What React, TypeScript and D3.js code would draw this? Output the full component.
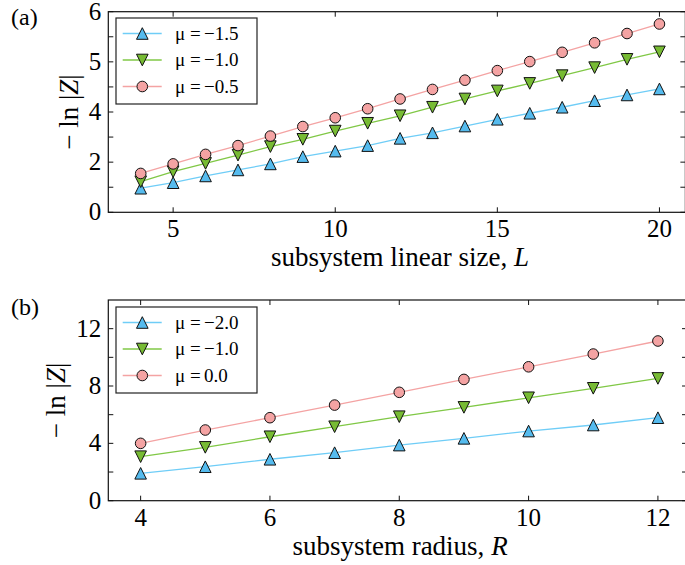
import React from "react";
import * as d3 from "d3";

// ---------- Data ----------
const sizesL = [4, 5, 6, 7, 8, 9, 10, 11, 12, 13, 14, 15, 16, 17, 18, 19, 20];
const aMuM15 = [0.96, 1.18, 1.45, 1.69, 1.93, 2.22, 2.44, 2.66, 2.95, 3.17, 3.44, 3.71, 3.95, 4.19, 4.45, 4.68, 4.92];
const aMuM10 = [1.22, 1.62, 1.95, 2.28, 2.62, 2.91, 3.24, 3.55, 3.85, 4.19, 4.52, 4.84, 5.14, 5.45, 5.77, 6.1, 6.4];
const aMuM05 = [1.55, 1.93, 2.31, 2.66, 3.04, 3.42, 3.77, 4.13, 4.52, 4.9, 5.27, 5.65, 6.01, 6.38, 6.76, 7.13, 7.51];
const aLegendVals = ["−1.5", "−1.0", "−0.5"];
const aXTicks = [5, 10, 15, 20];
const aYTicks = [0, 2, 4, 6, 8];
const aYTickLabels = ["0", "2", "4", "5", "6"];
const aYMinor = [1, 3, 5, 7];

const radiiR = [4, 5, 6, 7, 8, 9, 10, 11, 12];
const bMuM20 = [1.91, 2.37, 2.89, 3.35, 3.88, 4.35, 4.86, 5.28, 5.79];
const bMuM10 = [3.07, 3.72, 4.46, 5.16, 5.86, 6.51, 7.18, 7.84, 8.53];
const bMu00 = [4.0, 4.93, 5.79, 6.67, 7.56, 8.46, 9.34, 10.23, 11.14];
const bLegendVals = ["−2.0", "−1.0", "0.0"];
const bXTicks = [4, 6, 8, 10, 12];
const bYTicks = [0, 4, 8, 12];
const bYTickLabels = ["0", "4", "8", "12"];
const bYMinor = [2, 6, 10];

const markers = ["up", "down", "circle"];
const fills = ["#55bbee", "#77bb33", "#f4a3a3"];
const lines = ["#6fcdf7", "#80c846", "#f4a3a3"];

const FONT = "Liberation Serif, Times New Roman, Times, serif";

function Marker({ kind, x, y, fill }: { kind: string; x: number; y: number; fill: string }) {
  const s = 5.8;
  if (kind === "circle") {
    return <circle cx={x} cy={y} r={5.3} fill={fill} stroke="#111" strokeWidth={1} />;
  }
  const p = kind === "up"
    ? `M${x},${y - s}L${x + s},${y + s}L${x - s},${y + s}Z`
    : `M${x},${y + s}L${x + s},${y - s}L${x - s},${y - s}Z`;
  return <path d={p} fill={fill} stroke="#111" strokeWidth={1} strokeLinejoin="miter" />;
}

type PanelProps = {
  xs: number[];
  series: number[][];
  legendVals: string[];
  xDomain: [number, number];
  xRange: [number, number];
  yDomain: [number, number];
  yRange: [number, number];
  xTicks: number[];
  yTicks: number[];
  yTickLabels: string[];
  yMinor: number[];
  xLabel: string;
  xVar: string;
  tag: string;
  tagY: number;
  yLabelX: number;
  legendY: number;
};

function Panel(p: PanelProps) {
  const x = d3.scaleLinear().domain(p.xDomain).range(p.xRange);
  const y = d3.scaleLinear().domain(p.yDomain).range(p.yRange);
  const [x0, x1] = p.xRange;
  const [yb, yt] = p.yRange;
  const line = d3.line<number>().x((_, i) => x(p.xs[i])).y((d) => y(d));
  const tl = 5;
  const ym = (yb + yt) / 2;
  return (
    <g style={{ fontFamily: FONT }}>
      <text x={11} y={p.tagY} fontSize={24}>{p.tag}</text>
      {p.series.map((s, k) => (
        <path key={"l" + k} d={line(s) || ""} fill="none" stroke={lines[k]} strokeWidth={1.3} />
      ))}
      {p.series.map((s, k) =>
        s.map((v, i) => <Marker key={`m${k}-${i}`} kind={markers[k]} x={x(p.xs[i])} y={y(v)} fill={fills[k]} />)
      )}
      <rect x={x0} y={yt} width={x1 - x0} height={yb - yt} fill="none" stroke="#111" strokeWidth={1.2} />
      {p.xTicks.map((t) => (
        <g key={"xt" + t}>
          <line x1={x(t)} x2={x(t)} y1={yb} y2={yb - tl} stroke="#111" strokeWidth={1} />
          <line x1={x(t)} x2={x(t)} y1={yt} y2={yt + tl} stroke="#111" strokeWidth={1} />
          <text x={x(t)} y={yb + 25} fontSize={25} textAnchor="middle">{t}</text>
        </g>
      ))}
      {p.yTicks.concat(p.yMinor).map((t) => (
        <g key={"yt" + t}>
          <line x1={x0} x2={x0 + tl} y1={y(t)} y2={y(t)} stroke="#111" strokeWidth={1} />
          <line x1={x1} x2={x1 - tl} y1={y(t)} y2={y(t)} stroke="#111" strokeWidth={1} />
        </g>
      ))}
      {p.yTicks.map((t, i) => (
        <text key={"yl" + t} x={x0 - 7} y={y(t) + 8} fontSize={25} textAnchor="end">{p.yTickLabels[i]}</text>
      ))}
      <text x={400} y={yb + 54} fontSize={27} textAnchor="middle">
        {p.xLabel}<tspan fontStyle="italic">{p.xVar}</tspan>
      </text>
      <text transform={`translate(${p.yLabelX},${ym}) rotate(-90)`} fontSize={27} textAnchor="middle">
        − ln |<tspan fontStyle="italic">Z</tspan>|
      </text>
      <rect x={116} y={p.legendY} width={141} height={86} fill="#fff" stroke="#222" strokeWidth={1.2} />
      {p.legendVals.map((val, k) => {
        const ly = p.legendY + 15.5 + k * 26.5;
        return (
          <g key={"lg" + k} fontSize={19}>
            <line x1={122.7} x2={161.7} y1={ly} y2={ly} stroke={lines[k]} strokeWidth={1.3} />
            <Marker kind={markers[k]} x={142.3} y={ly} fill={fills[k]} />
            <text x={175} y={ly + 6}>μ</text>
            <text x={190} y={ly + 6}>=</text>
            <text x={204} y={ly + 6}>{val}</text>
          </g>
        );
      })}
    </g>
  );
}

export default function App() {
  return (
    <svg width={685} height={565} style={{ position: "absolute", left: 0, top: 0, background: "#fff" }}>
      <rect width={685} height={565} fill="#fff" />
      <Panel
        xs={sizesL}
        series={[aMuM15, aMuM10, aMuM05]}
        legendVals={aLegendVals}
        xDomain={[3, 20.8]}
        xRange={[108.3, 108.3 + 17.8 * 32.42]}
        yDomain={[0, 8]}
        yRange={[212.3, 11.7]}
        xTicks={aXTicks}
        yTicks={aYTicks}
        yTickLabels={aYTickLabels}
        yMinor={aYMinor}
        xLabel="subsystem linear size, "
        xVar="L"
        tag="(a)"
        tagY={25}
        yLabelX={78}
        legendY={18}
      />
      <Panel
        xs={radiiR}
        series={[bMuM20, bMuM10, bMu00]}
        legendVals={bLegendVals}
        xDomain={[3.5, 12.45]}
        xRange={[108.3, 108.3 + 8.95 * 64.66]}
        yDomain={[0, 14]}
        yRange={[500.7, 300]}
        xTicks={bXTicks}
        yTicks={bYTicks}
        yTickLabels={bYTickLabels}
        yMinor={bYMinor}
        xLabel="subsystem radius, "
        xVar="R"
        tag="(b)"
        tagY={315}
        yLabelX={65}
        legendY={307}
      />
    </svg>
  );
}
